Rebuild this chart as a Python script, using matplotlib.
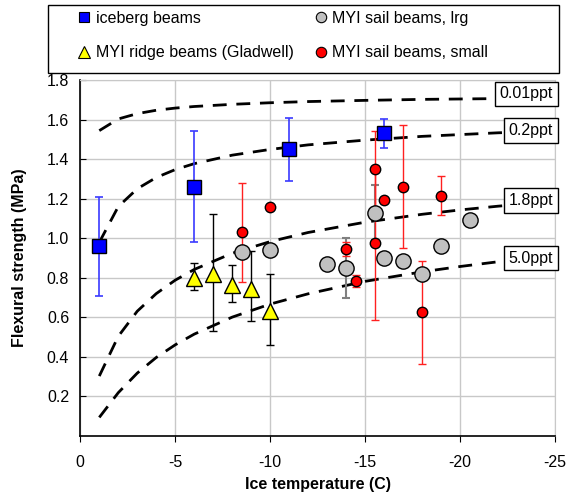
import matplotlib
matplotlib.use("Agg")
import matplotlib.pyplot as plt
from matplotlib.lines import Line2D
from matplotlib.patches import Rectangle

plt.rcParams['font.family'] = ['Liberation Sans', 'DejaVu Sans']
plt.rcParams['axes.unicode_minus'] = False

# ---- data ----
ice_T = [-1, -6, -11, -16]
ice_v = [0.96, 1.26, 1.45, 1.53]
ice_e = [0.25, 0.28, 0.16, 0.075]

rid_T = [-6, -7, -8, -9, -10]
rid_v = [0.80, 0.82, 0.765, 0.745, 0.63]
rid_lo = [0.06, 0.29, 0.085, 0.165, 0.17]
rid_hi = [0.075, 0.30, 0.10, 0.19, 0.19]

lrg_T = [-8.5, -10, -13, -14, -15.5, -16, -17, -18, -19, -20.5]
lrg_v = [0.93, 0.94, 0.87, 0.85, 1.13, 0.90, 0.885, 0.82, 0.96, 1.09]
lrg_e = [0, 0, 0, 0.15, 0.14, 0, 0, 0, 0, 0]

sml_T = [-8.5, -10, -14, -14.5, -15.5, -15.5, -16, -17, -18, -19]
sml_v = [1.03, 1.16, 0.945, 0.785, 1.35, 0.975, 1.195, 1.26, 0.625, 1.215]
sml_e = [0.25, 0, 0.035, 0.03, 0.19, 0.39, 0, 0.31, 0.26, 0.10]

curve_T = [-1, -2, -3, -4, -5, -6, -8, -10, -12, -15, -18, -20, -22, -25]
curve_001 = [1.544, 1.603, 1.630, 1.647, 1.658, 1.666, 1.677, 1.685, 1.691, 1.697, 1.702, 1.704, 1.706, 1.709]
curve_02 = [0.979, 1.160, 1.250, 1.307, 1.347, 1.377, 1.420, 1.449, 1.472, 1.496, 1.515, 1.524, 1.533, 1.543]
curve_18 = [0.303, 0.504, 0.631, 0.720, 0.788, 0.842, 0.924, 0.983, 1.029, 1.081, 1.121, 1.143, 1.162, 1.186]
curve_50 = [0.094, 0.219, 0.318, 0.397, 0.461, 0.515, 0.601, 0.667, 0.719, 0.782, 0.830, 0.857, 0.881, 0.912]
curve_labels = ['0.01ppt', '0.2ppt', '1.8ppt', '5.0ppt']
label_y = [1.73, 1.545, 1.19, 0.90]

W, H = 569, 495
fig = plt.figure(figsize=(W / 100, H / 100), dpi=100)
ax = fig.add_axes([80.3 / W, 1 - 436 / H, (555 - 80.3) / W, (436 - 80) / H])

ax.set_xlim(0, -25)
ax.set_ylim(0, 1.8)
ax.set_xticks([0, -5, -10, -15, -20, -25])
ax.set_xticklabels(['0', '-5', '-10', '-15', '-20', '-25'])
ax.set_yticks([0.2, 0.4, 0.6, 0.8, 1.0, 1.2, 1.4, 1.6, 1.8])
ax.set_yticklabels(['0.2', '0.4', '0.6', '0.8', '1.0', '1.2', '1.4', '1.6', '1.8'])
ax.grid(True, color='#c8c8c8', lw=1)
ax.set_axisbelow(True)
for s in ['top', 'right']:
    ax.spines[s].set_color('#c8c8c8')
for s in ['left', 'bottom']:
    ax.spines[s].set_linewidth(1.2)
ax.tick_params(axis='y', direction='in', length=4, labelsize=11.5, pad=8)
ax.tick_params(axis='x', direction='out', length=4, labelsize=11.5, pad=10)

ax.set_xlabel('Ice temperature (C)', fontsize=11.5, fontweight='bold', labelpad=5)
ax.set_ylabel('Flexural strength (MPa)', fontsize=11.5, fontweight='bold', labelpad=14)

# curves
for cv in [curve_001, curve_02, curve_18, curve_50]:
    ax.plot(curve_T, cv, color='black', lw=2.0, ls=(0, (5, 3.5)), zorder=2)
for lab, yy in zip(curve_labels, label_y):
    ax.text(-24.9, yy, lab, ha='right', va='center', fontsize=11.5, zorder=6,
            bbox=dict(boxstyle='square,pad=0.3', fc='white', ec='black', lw=1))

# error bars
ax.errorbar(ice_T, ice_v, yerr=ice_e, fmt='none', ecolor='#3a3aff', elinewidth=1.2, capsize=3, capthick=1.2, zorder=3)
ax.errorbar(rid_T, rid_v, yerr=[rid_lo, rid_hi], fmt='none', ecolor='black', elinewidth=1.0, capsize=3, capthick=1.0, zorder=3)
ax.errorbar(lrg_T, lrg_v, yerr=lrg_e, fmt='none', ecolor='#808080', elinewidth=1.5, capsize=3, capthick=1.5, zorder=3)
ax.errorbar(sml_T, sml_v, yerr=sml_e, fmt='none', ecolor='#ff2020', elinewidth=1.0, capsize=3, capthick=1.0, zorder=3)

# markers
ax.plot(lrg_T, lrg_v, 'o', ms=11, mfc='#c0c0c0', mec='black', mew=1, ls='none', zorder=4)
ax.plot(rid_T, rid_v, '^', ms=11, mfc='#ffff00', mec='black', mew=1, ls='none', zorder=4)
ax.plot(sml_T, sml_v, 'o', ms=7.5, mfc='#ff0000', mec='black', mew=1, ls='none', zorder=5)
ax.plot(ice_T, ice_v, 's', ms=9.5, mfc='#0000ff', mec='black', mew=1, ls='none', zorder=5)

# legend frame + legend
fig.patches.append(Rectangle((48 / W, 1 - 73 / H), (559 - 48) / W, 68 / H,
                             transform=fig.transFigure, fill=False, ec='black', lw=1.0))
handles = [
    Line2D([], [], marker='s', ms=7, mfc='#0000ff', mec='black', mew=0.8, ls='none'),
    Line2D([], [], marker='^', ms=8.5, mfc='#ffff00', mec='black', mew=0.8, ls='none'),
    Line2D([], [], marker='o', ms=7.5, mfc='#c0c0c0', mec='black', mew=0.8, ls='none'),
    Line2D([], [], marker='o', ms=7.5, mfc='#ff0000', mec='black', mew=0.8, ls='none'),
]
labels = ['iceberg beams', 'MYI ridge beams (Gladwell)', 'MYI sail beams, lrg', 'MYI sail beams, small']
leg = fig.legend(handles, labels, ncol=2, loc='upper left',
                 bbox_to_anchor=(78 / W, 1 - 11 / H),
                 fontsize=11.5, frameon=False, handlelength=0.8, handletextpad=0.3,
                 borderpad=0, labelspacing=1.2, columnspacing=1.3, borderaxespad=0)

fig.savefig('out.png', dpi=100)
